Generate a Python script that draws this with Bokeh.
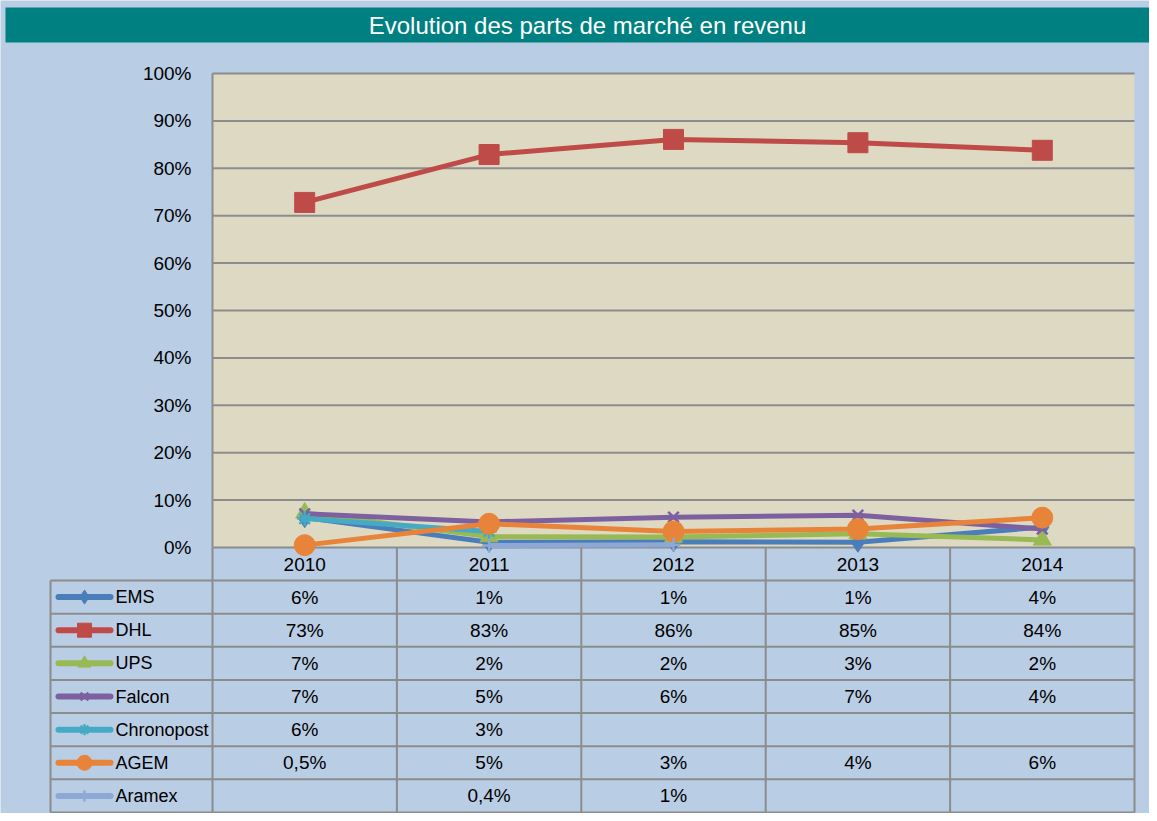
from bokeh.plotting import figure
from bokeh.models import Range1d, FixedTicker, NumeralTickFormatter
from bokeh.core.properties import value
from bokeh.embed import file_html
from bokeh.resources import INLINE

NaN = float("nan")

# ---------------- data ----------------
title_text = "Evolution des parts de marché en revenu"
years = ["2010", "2011", "2012", "2013", "2014"]
y_ticks = [0.0, 0.1, 0.2, 0.3, 0.4, 0.5, 0.6, 0.7, 0.8, 0.9, 1.0]

series_names = ["EMS", "DHL", "UPS", "Falcon", "Chronopost", "AGEM", "Aramex"]
ems = [0.063, 0.011, 0.012, 0.011, 0.043]
dhl = [0.728, 0.829, 0.861, 0.854, 0.838]
ups = [0.073, 0.023, 0.022, 0.029, 0.016]
falcon = [0.071, 0.054, 0.064, 0.068, 0.039]
chronopost = [0.061, 0.034, NaN, NaN, NaN]
agem = [0.005, 0.050, 0.034, 0.039, 0.063]
aramex = [NaN, 0.004, 0.006, NaN, NaN]
series_values = [ems, dhl, ups, falcon, chronopost, agem, aramex]

table_ems = ["6%", "1%", "1%", "1%", "4%"]
table_dhl = ["73%", "83%", "86%", "85%", "84%"]
table_ups = ["7%", "2%", "2%", "3%", "2%"]
table_falcon = ["7%", "5%", "6%", "7%", "4%"]
table_chronopost = ["6%", "3%", "", "", ""]
table_agem = ["0,5%", "5%", "3%", "4%", "6%"]
table_aramex = ["", "0,4%", "1%", "", ""]
table_labels = [table_ems, table_dhl, table_ups, table_falcon,
                table_chronopost, table_agem, table_aramex]

# ---------------- styles ----------------
colors = ["#4A7EBB", "#BE4B48", "#98B954", "#7D60A0", "#46AAC5", "#E8843A", "#8EA8D6"]
markers = ["diamond", "square", "triangle", "x", "asterisk", "circle", "cross"]
msizes = [20, 20, 18, 15, 15, 21, 14]
lsizes = [14, 14, 13, 11, 11, 15, 11]
FONT_NAME = "Liberation Sans"
FONT = value(FONT_NAME)
FS = "19px"
FS_LEG = "18px"
BG = "#B9CDE5"
BEIGE = "#DED9C3"
GRID = "#8C8C8C"
TEAL = "#008080"

W, H = 1149, 813          # canvas size
PX0 = 0                   # picture offset of the canvas
COLW = 184.4              # px per year column
PLOT_LEFT = 212           # px of the first column boundary
PX_PER_UNIT = 474.0       # px per 100 %
ZERO_Y = 547              # px of 0 %


def u(px):                # picture x -> column units
    return -0.5 + (px - PLOT_LEFT) / COLW


def v(py):                # picture y -> share units
    return (ZERO_Y - py) / PX_PER_UNIT


p = figure(width=W, height=H,
           x_range=Range1d(u(PX0), u(PX0 + W)),
           y_range=Range1d(v(PX0 + H), v(PX0)),
           x_axis_location=None, y_axis_location="left",
           toolbar_location=None, output_backend="svg",
           min_border_left=0, min_border_right=0, min_border_top=0, min_border_bottom=0)
p.outline_line_color = None
p.background_fill_color = BG
p.border_fill_color = BG
p.xgrid.visible = False
p.ygrid.visible = False

# y axis drawn inside the canvas, labels ending at x 191
p.yaxis.ticker = FixedTicker(ticks=y_ticks)
p.yaxis.formatter = NumeralTickFormatter(format="0%")
p.yaxis.axis_line_color = None
p.yaxis.major_tick_line_color = None
p.yaxis.minor_tick_line_color = None
p.yaxis.major_tick_out = 0
p.yaxis.major_tick_in = 0
p.yaxis.major_label_standoff = -(191 - PX0)
p.yaxis.major_label_text_font = FONT_NAME
p.yaxis.major_label_text_font_size = FS
p.yaxis.major_label_text_color = "black"

# title band
p.quad(left=[u(5)], right=[u(PX0 + W)], bottom=[v(42)], top=[v(7)],
       fill_color=TEAL, line_color=None)
p.text(x=[u(587)], y=[v(25)], text=[title_text], text_font=FONT, text_font_size="24px",
       text_color="white", text_align="center", text_baseline="middle")

# plot area
p.quad(left=[-0.5], right=[4.5], bottom=[0], top=[1], fill_color=BEIGE, line_color=None)
p.segment(x0=[-0.5] * len(y_ticks), y0=y_ticks, x1=[4.5] * len(y_ticks), y1=y_ticks,
          line_color=GRID, line_width=2)
p.segment(x0=[-0.5], y0=[0], x1=[-0.5], y1=[1], line_color=GRID, line_width=2)

# data table grid
n = len(series_names)
row_h = 232.0 / 7
hdr_bottom = v(580)
row_edges = [v(580 + k * row_h) for k in range(n + 1)]
leg_left = u(50)
bounds = [i - 0.5 for i in range(len(years) + 1)]
p.segment(x0=bounds, y0=[row_edges[-1]] * len(bounds), x1=bounds, y1=[0] * len(bounds),
          line_color=GRID, line_width=2)
p.segment(x0=[leg_left] * len(row_edges), y0=row_edges, x1=[4.5] * len(row_edges),
          y1=row_edges, line_color=GRID, line_width=2)
p.segment(x0=[leg_left], y0=[row_edges[-1]], x1=[leg_left], y1=[row_edges[0]],
          line_color=GRID, line_width=2)

xs = list(range(len(years)))
p.text(x=xs, y=[(0 + hdr_bottom) / 2] * len(xs), text=years, text_font=FONT,
       text_font_size=FS, text_color="black", text_align="center", text_baseline="middle")

# series
for name, vals, c, m, s in zip(series_names, series_values, colors, markers, msizes):
    p.line(xs, vals, line_color=c, line_width=5)
    if m in ("x", "asterisk", "cross"):
        p.scatter(xs, vals, marker=m, size=s, line_color=c, line_width=2.5)
    else:
        p.scatter(xs, vals, marker=m, size=s, fill_color=c, line_color=c)

# table rows: legend key + values
for r, (name, labels, c, m, s) in enumerate(zip(series_names, table_labels, colors, markers, lsizes)):
    yc = (row_edges[r] + row_edges[r + 1]) / 2
    p.segment(x0=[u(58)], y0=[yc], x1=[u(110)], y1=[yc],
              line_color=c, line_width=6, line_cap="round")
    if m in ("x", "asterisk", "cross"):
        p.scatter([u(84)], [yc], marker=m, size=s, line_color=c, line_width=2.5)
    else:
        p.scatter([u(84)], [yc], marker=m, size=s, fill_color=c, line_color=c)
    p.text(x=[u(115)], y=[yc], text=[name], text_font=FONT, text_font_size=FS_LEG,
           text_color="black", text_align="left", text_baseline="middle")
    p.text(x=xs, y=[yc] * len(xs), text=labels, text_font=FONT, text_font_size=FS,
           text_color="black", text_align="center", text_baseline="middle")

open("out.html", "w").write(file_html(p, INLINE))
